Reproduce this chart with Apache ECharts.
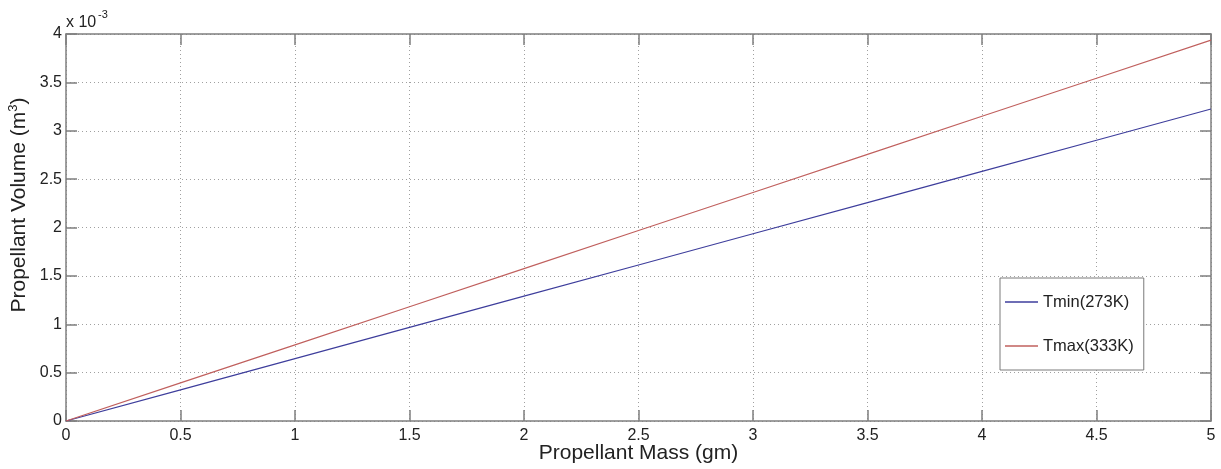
<!DOCTYPE html>
<html>
<head>
<meta charset="utf-8">
<script src="https://cdn.jsdelivr.net/npm/echarts@6/dist/echarts.min.js"></script>
<style>
  html, body { margin: 0; padding: 0; background: #fff; }
  #chart { width: 1221px; height: 469px; }
</style>
</head>
<body>
<div id="chart"></div>
<script>
// propellant mass in gm
var massGm = [0, 0.5, 1, 1.5, 2, 2.5, 3, 3.5, 4, 4.5, 5];
// volume in units of 1e-3 m^3
var tminVol = [0, 0.322, 0.645, 0.967, 1.29, 1.612, 1.935, 2.257, 2.58, 2.902, 3.225];
var tmaxVol = [0, 0.394, 0.787, 1.181, 1.575, 1.969, 2.362, 2.756, 3.15, 3.543, 3.937];

var FONT = 'Liberation Sans';
var axisGray = '#7f7f7f';
var textCol = '#222';

function pairs(xs, ys) {
  return xs.map(function (x, i) { return [x, ys[i]]; });
}

var chart = echarts.init(document.getElementById('chart'));

// top / right frame axes, ticks only
var boxAxis = {
  axisLine: { show: true, onZero: false, lineStyle: { color: axisGray, width: 1.5 } },
  axisTick: { show: true, inside: true, length: 11, lineStyle: { color: axisGray, width: 1.5 } },
  axisLabel: { show: false },
  splitLine: { show: false }
};
var gridLine = { show: true, lineStyle: { color: '#a0a0a0', type: [1, 3], width: 1 } };

chart.setOption({
  animation: false,
  backgroundColor: '#fff',
  textStyle: { fontFamily: FONT },
  grid: { left: 66, right: 10, top: 34, bottom: 48, containLabel: false, outerBoundsMode: 'none' },
  legend: {
    orient: 'vertical',
    left: 1000,
    top: 278,
    padding: [14, 10, 14, 5],
    itemGap: 24,
    itemWidth: 33,
    itemHeight: 1.5,
    icon: 'rect',
    backgroundColor: '#fff',
    borderColor: '#7a7a7a',
    borderWidth: 1,
    textStyle: { fontFamily: FONT, fontSize: 16.5, lineHeight: 20, color: textCol },
    data: ['Tmin(273K)', 'Tmax(333K)']
  },
  graphic: [
    { type: 'text', left: 66, top: 15, style: { text: 'x 10', font: '16px ' + FONT, fill: textCol } },
    { type: 'text', left: 98, top: 9, style: { text: '-3', font: '11px ' + FONT, fill: textCol } },
    {
      type: 'text', x: 19, y: 205, rotation: Math.PI / 2,
      style: {
        text: '{a|Propellant Volume (m}{s|3}{a|)}',
        align: 'center', verticalAlign: 'middle',
        rich: {
          a: { fontFamily: FONT, fontSize: 21, fill: textCol, lineHeight: 24 },
          s: { fontFamily: FONT, fontSize: 13, fill: textCol, lineHeight: 24, padding: [0, 0, 12, 0] }
        }
      }
    }
  ],
  xAxis: [
    {
      type: 'value', min: 0, max: 5, interval: 0.5,
      name: 'Propellant Mass (gm)', nameLocation: 'middle', nameGap: 32, nameMoveOverlap: false,
      nameTextStyle: { fontFamily: FONT, fontSize: 21, color: textCol, verticalAlign: 'middle' },
      axisLine: { show: true, onZero: false, lineStyle: { color: axisGray, width: 1.5 } },
      axisTick: { show: true, inside: true, length: 11, lineStyle: { color: axisGray, width: 1.5 } },
      axisLabel: { fontFamily: FONT, fontSize: 16, color: textCol, margin: 7 },
      splitLine: gridLine
    },
    Object.assign({ type: 'value', min: 0, max: 5, interval: 0.5, position: 'top' }, boxAxis)
  ],
  yAxis: [
    {
      type: 'value', min: 0, max: 4, interval: 0.5,
      axisLine: { show: true, onZero: false, lineStyle: { color: axisGray, width: 1.5 } },
      axisTick: { show: true, inside: true, length: 11, lineStyle: { color: axisGray, width: 1.5 } },
      axisLabel: { fontFamily: FONT, fontSize: 16, color: textCol, margin: 4 },
      splitLine: gridLine
    },
    Object.assign({ type: 'value', min: 0, max: 4, interval: 0.5, position: 'right' }, boxAxis)
  ],
  series: [
    {
      name: 'Tmin(273K)', type: 'line', symbol: 'none', showSymbol: false,
      lineStyle: { color: '#3e3e9c', width: 1.2 }, itemStyle: { color: '#3e3e9c' },
      data: pairs(massGm, tminVol)
    },
    {
      name: 'Tmax(333K)', type: 'line', symbol: 'none', showSymbol: false,
      lineStyle: { color: '#c0605e', width: 1.2 }, itemStyle: { color: '#c0605e' },
      data: pairs(massGm, tmaxVol)
    }
  ]
});
</script>
</body>
</html>
